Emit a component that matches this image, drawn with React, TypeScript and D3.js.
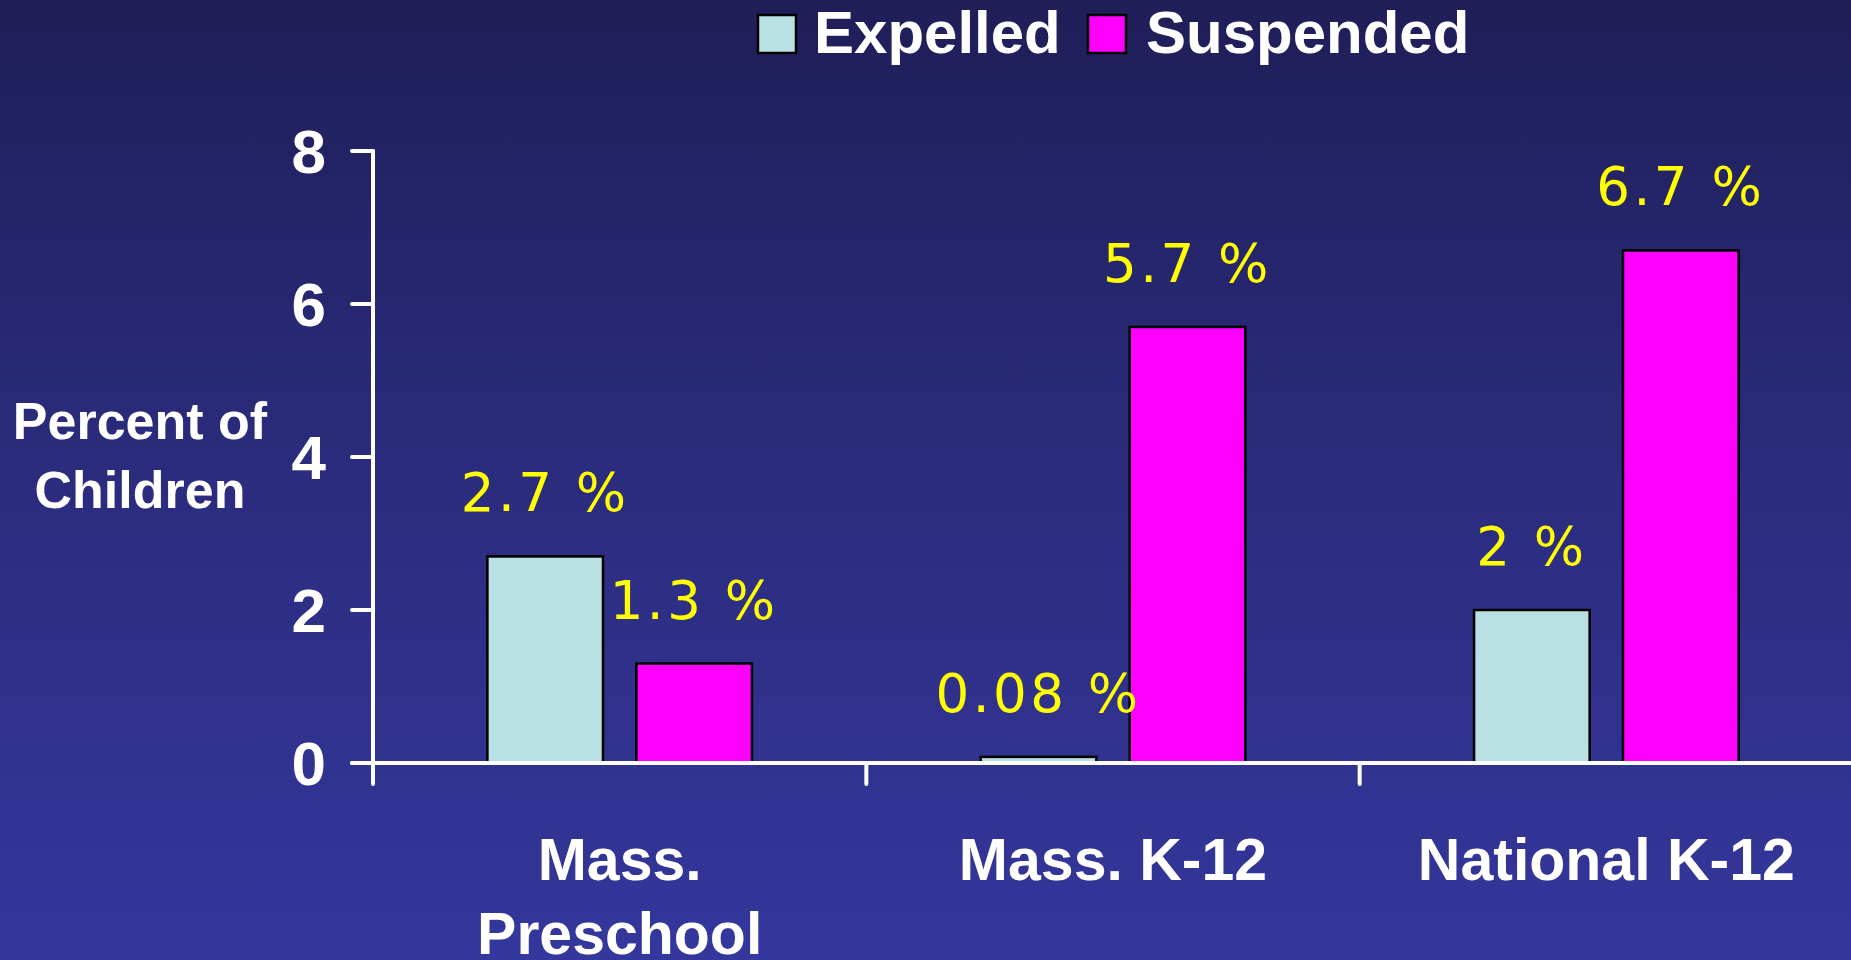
import React from "react"
import * as d3 from "d3"

const categories = ["Mass. Preschool", "Mass. K-12", "National K-12"]
const categoryLines = [["Mass.", "Preschool"], ["Mass. K-12"], ["National K-12"]]
const series = ["Expelled", "Suspended"]
const expelled = [2.7, 0.08, 2]
const suspended = [1.3, 5.7, 6.7]
const yTicks = [0, 2, 4, 6, 8]
const colors = ["#b9e0e2", "#ff00ff"]

const W = 1851
const H = 960

export default function App() {
    const values = [expelled, suspended]

    // plot frame
    const x0 = d3.scaleBand().domain(categories).range([373, 1853]).padding(0)
    const x1 = d3
        .scaleBand()
        .domain(series)
        .range([0, x0.bandwidth()])
        .paddingInner(0.224)
        .paddingOuter(0.768)
    const y = d3.scaleLinear().domain([0, 8]).range([763, 151])

    const boldFont = "'Liberation Sans', Arial, sans-serif"
    const labelFont = "'DejaVu Sans', sans-serif"

    return (
        <div style={{ position: "absolute", left: 0, top: 0 }}>
            <svg width={W} height={H} viewBox={`0 0 ${W} ${H}`} style={{ display: "block" }}>
                <defs>
                    <linearGradient id="bg" x1="0" y1="0" x2="0" y2="1">
                        <stop offset="0" stopColor="#1f1e58" />
                        <stop offset="0.5" stopColor="#2b2c7e" />
                        <stop offset="1" stopColor="#34379c" />
                    </linearGradient>
                </defs>
                <rect x={0} y={0} width={W} height={H} fill="url(#bg)" />

                {/* legend */}
                <g fontFamily={boldFont} fontWeight="bold" fontSize={60} fill="#fff">
                    <rect x={758} y={15} width={38} height={38} fill={colors[0]} stroke="#000" strokeWidth={2.5} />
                    <text x={814} y={53}>{series[0]}</text>
                    <rect x={1088} y={15} width={38} height={38} fill={colors[1]} stroke="#000" strokeWidth={2.5} />
                    <text x={1146} y={53}>{series[1]}</text>
                </g>

                {/* y axis title */}
                <text
                    fontFamily={boldFont}
                    fontWeight="bold"
                    fontSize={52}
                    fill="#fff"
                    textAnchor="middle"
                >
                    <tspan x={140} y={439}>Percent of</tspan>
                    <tspan x={140} y={508}>Children</tspan>
                </text>

                {/* bars */}
                {categories.map((c, i) =>
                    series.map((s, j) => {
                        const v = values[j][i]
                        const bx = (x0(c) || 0) + (x1(s) || 0)
                        return (
                            <rect
                                key={c + s}
                                x={bx}
                                y={y(v)}
                                width={x1.bandwidth()}
                                height={y(0) - y(v)}
                                fill={colors[j]}
                                stroke="#000"
                                strokeWidth={2.5}
                            />
                        )
                    })
                )}

                {/* axes */}
                <g stroke="#fff" strokeWidth={4} strokeLinecap="round">
                    <line x1={373} x2={373} y1={y(8)} y2={784} />
                    <line x1={352} x2={W} y1={y(0)} y2={y(0)} />
                    {yTicks.map((t) => (
                        <line key={t} x1={352} x2={373} y1={y(t)} y2={y(t)} />
                    ))}
                    {categories.slice(1).map((c) => (
                        <line key={c} x1={x0(c)} x2={x0(c)} y1={y(0)} y2={784} />
                    ))}
                </g>

                {/* y tick labels */}
                <g fontFamily={boldFont} fontWeight="bold" fontSize={62} fill="#fff" textAnchor="end">
                    {yTicks.map((t) => (
                        <text key={t} x={326} y={y(t) + 22}>{t}</text>
                    ))}
                </g>

                {/* category labels */}
                <g fontFamily={boldFont} fontWeight="bold" fontSize={59} fill="#fff" textAnchor="middle">
                    {categories.map((c, i) => (
                        <text key={c}>
                            {categoryLines[i].map((line, k) => (
                                <tspan key={k} x={(x0(c) || 0) + x0.bandwidth() / 2} y={880 + k * 74}>
                                    {line}
                                </tspan>
                            ))}
                        </text>
                    ))}
                </g>

                {/* value labels */}
                <g fontFamily={labelFont} fontSize={53} fill="#ffff00" textAnchor="middle" letterSpacing={3.5}>
                    {categories.map((c, i) =>
                        series.map((s, j) => {
                            const v = values[j][i]
                            const cx = (x0(c) || 0) + (x1(s) || 0) + x1.bandwidth() / 2
                            return (
                                <text key={c + s} x={cx} y={y(v) - 45}>
                                    {`${v} %`}
                                </text>
                            )
                        })
                    )}
                </g>
            </svg>
        </div>
    )
}
